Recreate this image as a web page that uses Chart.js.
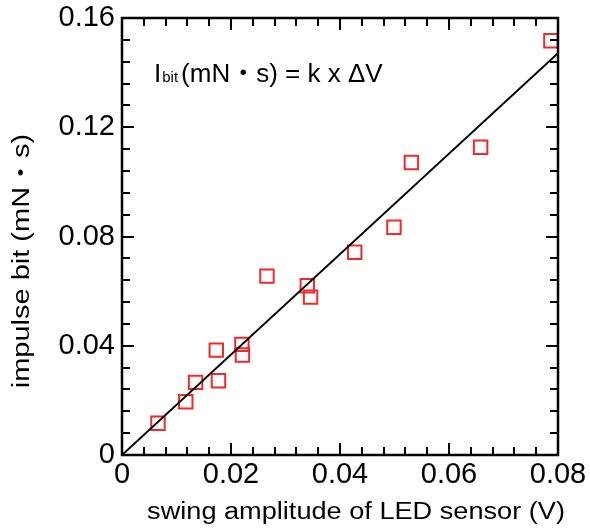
<!DOCTYPE html>
<html>
<head>
<meta charset="utf-8">
<script src="https://cdn.jsdelivr.net/npm/chart.js@4.4.1/dist/chart.umd.min.js"></script>
<style>
  html, body { margin: 0; padding: 0; background: #fff; }
  #wrap { width: 590px; height: 530px; }
</style>
</head>
<body>
<div id="wrap"><canvas id="myChart" width="590" height="530"></canvas></div>
<script>
// measured swing amplitude (V) and impulse bit (mN·s)
var amplitude = [0.0066, 0.0117, 0.0135, 0.0173, 0.0177, 0.0220, 0.0221, 0.0266,
                 0.0340, 0.0346, 0.0427, 0.0499, 0.0531, 0.0658, 0.0787];
var impulse = [0.0116, 0.0195, 0.0266, 0.0384, 0.0272, 0.0405, 0.0366, 0.0655,
               0.0620, 0.0578, 0.0742, 0.0834, 0.1071, 0.1127, 0.1517];

// linear fit Ibit = k x dV, end points
var fitX = [0, 0.08];
var fitY = [0, 0.1471];

var xTicks = [0, 0.02, 0.04, 0.06, 0.08];
var xTickLabels = ['0', '0.02', '0.04', '0.06', '0.08'];
var yTicks = [0, 0.04, 0.08, 0.12, 0.16];
var yTickLabels = ['0', '0.04', '0.08', '0.12', '0.16'];

var xTitle = 'swing amplitude of LED sensor (V)';
var yTitle = 'impulse bit (mN\u30FBs)';

var FONT = "'Liberation Sans', Arial, 'Noto Sans CJK JP', sans-serif";

function toPoints(xs, ys) {
  return xs.map(function(x, i) { return {x: x, y: ys[i]}; });
}

// inward ticks on all four sides, the frame, titles and the equation
var frameTicks = {
  id: 'frameTicks',
  afterDatasetsDraw: function(chart) {
    var ctx = chart.ctx, a = chart.chartArea;
    var xs = chart.scales.x, ys = chart.scales.y;
    ctx.save();
    ctx.strokeStyle = '#000';
    ctx.lineWidth = 2;
    ctx.beginPath();
    var i, v, p, len;
    for (i = 0; i <= 20; i++) {
      v = i * 0.004;
      p = Math.round(xs.getPixelForValue(v));
      len = (i % 5 === 0) ? 12 : 8;
      ctx.moveTo(p, a.bottom); ctx.lineTo(p, a.bottom - len);
      ctx.moveTo(p, a.top); ctx.lineTo(p, a.top + len);
    }
    for (i = 0; i <= 20; i++) {
      v = i * 0.008;
      p = Math.round(ys.getPixelForValue(v));
      len = (i % 5 === 0) ? 12 : 8;
      ctx.moveTo(a.left, p); ctx.lineTo(a.left + len, p);
      ctx.moveTo(a.right, p); ctx.lineTo(a.right - len, p);
    }
    ctx.stroke();
    ctx.lineWidth = 2.5;
    ctx.strokeRect(a.left, a.top, a.right - a.left, a.bottom - a.top);

    ctx.fillStyle = '#000';
    ctx.textBaseline = 'alphabetic';

    // axis titles, a little wider than the plain font
    ctx.font = '23px ' + FONT;
    ctx.textAlign = 'center';
    ctx.save();
    ctx.translate(356, 519);
    ctx.scale(1.18, 1);
    ctx.fillText(xTitle, 0, 0);
    ctx.restore();

    ctx.save();
    ctx.translate(29, 261);
    ctx.rotate(-Math.PI / 2);
    ctx.scale(1.26, 1);
    ctx.fillText(yTitle, 0, 0);
    ctx.restore();

    // equation label
    ctx.textAlign = 'left';
    var x0 = a.left + 32, y0 = a.top + 64;
    ctx.font = '26px ' + FONT;
    ctx.fillText('I', x0, y0);
    x0 += ctx.measureText('I').width + 1;
    ctx.font = '15px ' + FONT;
    ctx.fillText('bit', x0, y0);
    x0 += ctx.measureText('bit').width + 3;
    ctx.font = '26px ' + FONT;
    ctx.fillText('(mN\u30FBs) = k x \u0394V', x0, y0);
    ctx.restore();
  }
};

var ctx = document.getElementById('myChart').getContext('2d');
var chart = new Chart(ctx, {
  type: 'scatter',
  data: {
    datasets: [{
      label: 'fit',
      type: 'line',
      data: toPoints(fitX, fitY),
      borderColor: '#000',
      borderWidth: 2,
      pointRadius: 0,
      fill: false
    }, {
      label: 'data',
      data: toPoints(amplitude, impulse),
      pointStyle: 'rect',
      pointRadius: 9.5,
      pointBorderWidth: 2,
      pointBorderColor: '#ee2a2a',
      pointBackgroundColor: 'rgba(0,0,0,0)'
    }]
  },
  options: {
    responsive: false,
    animation: false,
    layout: { padding: { left: 0, right: 32, top: 18, bottom: 0 } },
    plugins: {
      legend: { display: false },
      tooltip: { enabled: false }
    },
    scales: {
      x: {
        type: 'linear',
        min: 0, max: 0.08,
        afterBuildTicks: function(s) { s.ticks = xTicks.map(function(v) { return {value: v}; }); },
        afterFit: function(s) { s.height = 75; s.paddingLeft = 0; s.paddingRight = 0; },
        grid: { display: false, drawTicks: false },
        border: { display: false },
        ticks: {
          color: '#000',
          padding: 4,
          maxRotation: 0,
          font: { family: FONT, size: 29, lineHeight: 1.1 },
          callback: function(v, i) { return xTickLabels[i]; }
        }
      },
      y: {
        type: 'linear',
        min: 0, max: 0.16,
        afterBuildTicks: function(s) { s.ticks = yTicks.map(function(v) { return {value: v}; }); },
        afterFit: function(s) { s.width = 122; s.paddingTop = 0; s.paddingBottom = 0; },
        grid: { display: false, drawTicks: false },
        border: { display: false },
        ticks: {
          color: '#000',
          padding: 7,
          font: { family: FONT, size: 29, lineHeight: 1.1 },
          callback: function(v, i) { return yTickLabels[i]; }
        }
      }
    }
  },
  plugins: [frameTicks]
});
</script>
</body>
</html>
